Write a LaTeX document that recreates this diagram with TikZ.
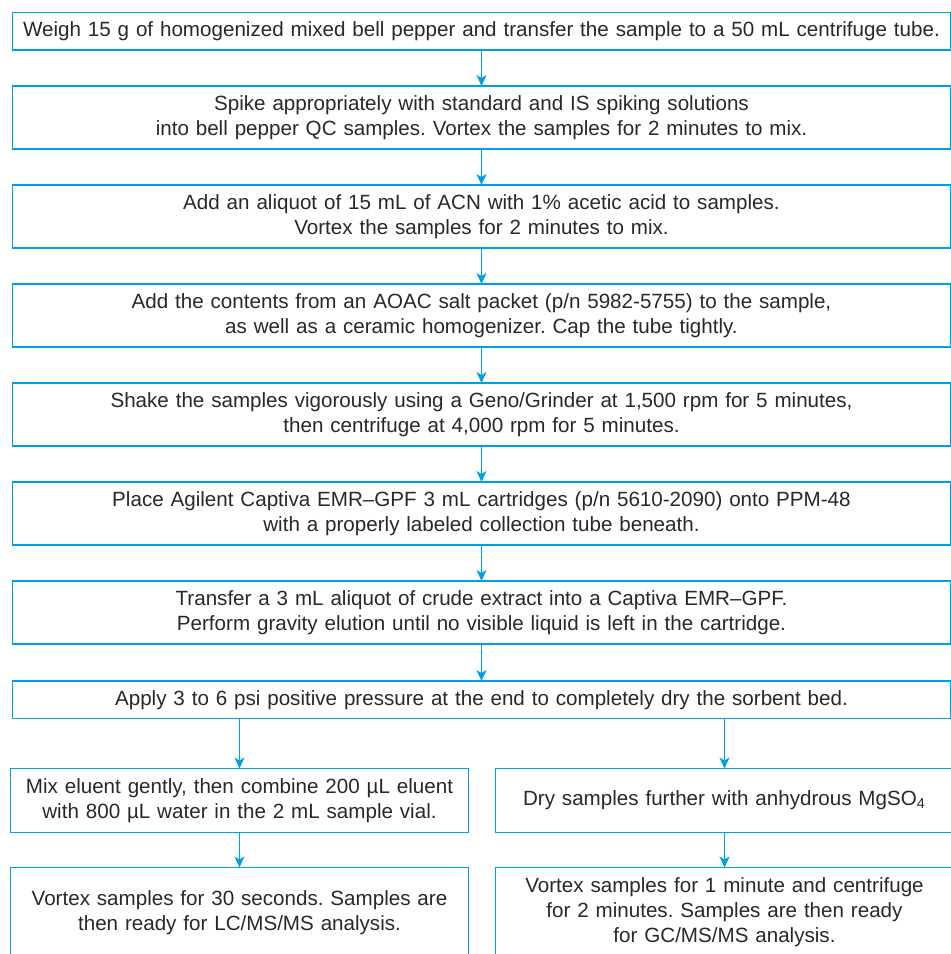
\documentclass[tikz,border=0pt]{standalone}
\usepackage{fontspec}
\setmainfont{Liberation Sans}
\usetikzlibrary{positioning}
\usetikzlibrary{arrows.meta}
\definecolor{agilentblue}{RGB}{0,161,224}
\definecolor{inkgray}{RGB}{40,40,40}
\tikzstyle{W} = [rectangle,draw=agilentblue,line width=0.75pt,outer sep=0pt,text=inkgray,align=center,text width=465pt,inner sep=2pt,minimum height=31.5pt,font=\fontsize{10.3}{12.5}\selectfont]
\tikzstyle{N} = [W,text width=225pt,minimum height=32pt]
\tikzstyle{link} = [->,draw=agilentblue,line width=0.7pt]
\tikzset{>={Stealth[length=5.5pt,width=5pt,inset=1.5pt]}}

\begin{document}
\frenchspacing
\begin{tikzpicture}[node distance=18pt]
  \useasboundingbox (0,0) rectangle (475.5pt,-477pt);

  \node [W,anchor=north west,minimum height=18.75pt] (n1) at (6.25pt,-6.25pt) {Weigh 15 g of homogenized mixed bell pepper and transfer the sample to a 50 mL centrifuge tube.};
  \node [W,below=of n1] (n2) {Spike appropriately with standard and IS spiking solutions\\into bell pepper QC samples. Vortex the samples for 2 minutes to mix.};
  \node [W,below=of n2] (n3) {Add an aliquot of 15 mL of ACN with 1\% acetic acid to samples.\\Vortex the samples for 2 minutes to mix.};
  \node [W,below=of n3] (n4) {Add the contents from an AOAC salt packet (p/n 5982-5755) to the sample,\\as well as a ceramic homogenizer. Cap the tube tightly.};
  \node [W,below=of n4] (n5) {Shake the samples vigorously using a Geno/Grinder at 1,500 rpm for 5 minutes,\\then centrifuge at 4,000 rpm for 5 minutes.};
  \node [W,below=of n5] (n6) {Place Agilent Captiva EMR–GPF 3 mL cartridges (p/n 5610-2090) onto PPM-48\\with a properly labeled collection tube beneath.};
  \node [W,below=of n6] (n7) {Transfer a 3 mL aliquot of crude extract into a Captiva EMR–GPF.\\Perform gravity elution until no visible liquid is left in the cartridge.};
  \node [W,below=18.5pt of n7,minimum height=18.75pt] (n8) {Apply 3 to 6 psi positive pressure at the end to completely dry the sorbent bed.};

  \draw [link] (n1) -- (n2);
  \draw [link] (n2) -- (n3);
  \draw [link] (n3) -- (n4);
  \draw [link] (n4) -- (n5);
  \draw [link] (n5) -- (n6);
  \draw [link] (n6) -- (n7);
  \draw [link] (n7) -- (n8);

  % LC branch
  \node [N,below right=25pt and -1pt of n8.south west] (n9) {Mix eluent gently, then combine 200 µL eluent\\with 800 µL water in the 2 mL sample vial.};
  \node [N,below=17.5pt of n9,minimum height=45pt] (n10) {Vortex samples for 30 seconds. Samples are\\then ready for LC/MS/MS analysis.};
  \draw [link] (n9.north |- n8.south) -- (n9);
  \draw [link] (n9) -- (n10);

  % GC branch
  \node [N,below right=25pt and 7pt of n8.south] (n11) {Dry samples further with anhydrous MgSO\textsubscript{4}};
  \node [N,below=17.5pt of n11,minimum height=45pt] (n12) {Vortex samples for 1 minute and centrifuge\\for 2 minutes. Samples are then ready\\for GC/MS/MS analysis.};
  \draw [link] (n11.north |- n8.south) -- (n11);
  \draw [link] (n11) -- (n12);
\end{tikzpicture}
\end{document}
